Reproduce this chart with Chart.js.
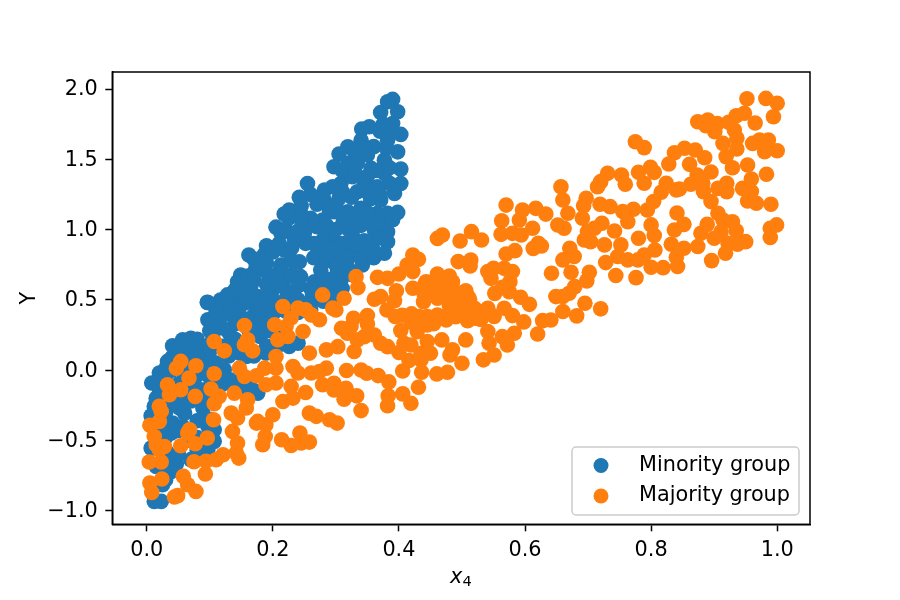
<!DOCTYPE html>
<html>
<head>
<meta charset="utf-8">
<title>Minority and majority group scatter</title>
<script src="https://cdn.jsdelivr.net/npm/chart.js@4/dist/chart.umd.min.js"></script>
<style>
  html, body { margin: 0; background: #fff; }
  canvas { display: block; }
</style>
</head>
<body>
<canvas id="scatter" width="900" height="600"></canvas>
<script>
const xTicks = [0, 0.2, 0.4, 0.6, 0.8, 1.0];
const yTicks = [-1, -0.5, 0, 0.5, 1, 1.5, 2];
const groupNames = ["Minority group", "Majority group"];

const minorityPoints = [
  [.390,1.926],[.382,1.909],[.371,1.833],[.398,1.838],[.390,1.755],[.353,1.731],[.341,1.715],[.403,1.677],
  [.382,1.636],[.340,1.636],[.319,1.589],[.305,1.537],[.297,1.447],[.398,1.553],[.377,1.494],[.403,1.430],
  [.319,1.471],[.334,1.471],[.356,1.435],[.350,1.530],[.403,1.328],[.393,1.257],[.366,1.305],[.377,1.400],
  [.308,1.328],[.295,1.305],[.255,1.328],[.282,1.281],[.242,1.229],[.345,1.328],[.326,1.376],[.334,1.269],
  [.305,1.222],[.284,1.186],[.218,1.110],[.226,1.139],[.244,1.115],[.398,1.122],[.382,1.115],[.366,1.115],
  [.371,1.210],[.340,1.151],[.319,1.127],[.297,1.127],[.205,1.017],[.250,1.032],[.279,1.068],[.382,.985],
  [.361,.997],[.326,.961],[.311,1.044],[.287,.985],[.382,.914],[.377,.831],[.356,.902],[.340,.854],
  [.319,.843],[.297,.926],[.252,.902],[.234,.937],[.213,.973],[.218,.854],[.190,.885],[.162,.819],
  [.186,.819],[.342,.748],[.281,.831],[.303,.807],[.213,.748],[.242,.771],[.244,.665],[.173,.724],
  [.149,.677],[.144,.629],[.186,.712],[.194,.665],[.218,.641],[.303,.712],[.276,.712],[.308,.641],
  [.266,.629],[.292,.594],[.165,.594],[.128,.535],[.117,.499],[.096,.482],[.199,.570],[.223,.558],
  [.176,.523],[.152,.535],[.139,.452],[.186,.428],[.263,.535],[.234,.475],[.295,.523],[.097,.481],
  [.121,.500],[.142,.524],[.168,.535],[.195,.535],[.224,.535],[.097,.358],[.115,.334],[.136,.429],
  [.126,.453],[.147,.393],[.189,.393],[.200,.275],[.174,.453],[.155,.476],[.041,.173],[.057,.216],
  [.070,.227],[.085,.168],[.105,.227],[.131,.263],[.129,.168],[.147,.121],[.158,.097],[.099,.121],
  [.099,.073],[.033,.062],[.020,-.021],[.008,-.092],[.025,-.045],[.078,-.045],[.123,.002],[.086,-.140],
  [.131,-.069],[.168,-.140],[.176,-.164],[.158,-.140],[.226,.168],[.240,.192],[.189,.121],[.216,.263],
  [.012,-.258],[.007,-.325],[.052,-.270],[.041,-.377],[.039,-.448],[.060,-.306],[.089,-.270],[.097,-.401],
  [.107,-.424],[.107,-.507],[.097,-.566],[.070,-.637],[.047,-.666],[.039,-.721],[.025,-.815],[.023,-.934],
  [.012,-.934],[.007,-.555],[.031,-.578],[.015,-.685],[.020,-.164],[.057,-.401],[.050,-.100],[.040,.000],
  [.060,.100],[.080,.050],[.100,-.050],[.050,-.200],[.120,.400],[.170,.390],[.030,-.300],[.030,-.480],
  [.375,1.750],[.370,1.700],[.390,1.700],[.360,1.590],[.345,1.580],[.380,1.580],[.330,1.550],[.310,1.420],
  [.330,1.410],[.350,1.380],[.365,1.420],[.385,1.440],[.310,1.270],[.350,1.270],[.385,1.330],[.370,1.250],
  [.355,1.220],[.325,1.230],[.300,1.170],[.290,1.130],[.330,1.080],[.350,1.060],[.370,1.050],[.390,1.070],
  [.310,1.100],[.350,1.120],[.300,1.000],[.320,1.000],[.340,1.030],[.270,1.020],[.285,1.030],[.370,.940],
  [.345,.920],[.280,.930],[.265,.900],[.310,.900],[.330,.900],[.360,.850],[.280,.880],[.295,.860],
  [.320,.800],[.340,.800],[.360,.800],[.265,.800],[.285,.780],[.300,.750],[.320,.720],[.230,.870],
  [.200,.840],[.210,.900],[.230,.780],[.190,.760],[.170,.790],[.250,.970],[.220,1.000],[.240,.990],
  [.280,.660],[.300,.670],[.325,.680],[.270,.600],[.290,.630],[.310,.580],[.210,.700],[.230,.680],
  [.160,.670],[.170,.640],[.190,.610],[.210,.600],[.240,.600],[.130,.490],[.160,.500],[.180,.490],
  [.200,.500],[.220,.500],[.240,.500],[.260,.480],[.280,.490],[.260,.580],[.140,.570],[.120,.450],
  [.110,.420],[.130,.400],[.160,.360],[.180,.340],[.200,.400],[.220,.420],[.240,.410],[.260,.430],
  [.140,.330],[.120,.300],[.160,.300],[.190,.280],[.180,.240],[.140,.220],[.170,.260],[.100,.280],
  [.080,.220],[.070,.170],[.050,.150],[.100,.180],[.120,.170],[.190,.170],[.210,.180],[.170,.100],
  [.130,.100],[.110,.050],[.080,.100],[.060,.020],[.030,.010],[.040,.090],[.030,-.080],[.060,-.050],
  [.090,-.020],[.120,-.050],[.140,-.070],[.160,-.090],[.120,-.100],[.100,-.120],[.140,-.120],[.070,-.130],
  [.040,-.150],[.020,-.130],[.015,-.200],[.040,-.240],[.070,-.220],[.090,-.190],[.100,-.220],[.025,-.340],
  [.080,-.360],[.090,-.330],[.100,-.350],[.025,-.420],[.050,-.430],[.080,-.480],[.100,-.460],[.090,-.530],
  [.070,-.500],[.030,-.600],[.050,-.600],[.080,-.570],[.040,-.630],[.030,-.720],[.030,-.780],
  [.270,1.180],[.280,1.230],[.260,1.250],[.245,1.170],[.225,1.080],[.260,1.080],[.245,1.070]
];

const majorityPoints = [
  [.952,1.931],[.982,1.933],[1.000,1.898],[.994,1.803],[.965,1.758],[.948,1.827],[.935,1.810],[.923,1.763],
  [.874,1.767],[.890,1.779],[.905,1.755],[.887,1.739],[.901,1.696],[.914,1.613],[.932,1.708],[.936,1.649],
  [.936,1.573],[.919,1.519],[.929,1.440],[.953,1.459],[.983,1.393],[.895,1.410],[.961,1.613],[.972,1.637],
  [.986,1.637],[.980,1.554],[1.000,1.561],[.775,1.625],[.789,1.583],[.837,1.547],[.853,1.578],[.870,1.566],
  [.885,1.511],[.828,1.466],[.861,1.464],[.873,1.388],[.799,1.443],[.805,1.407],[.780,1.407],[.789,1.329],
  [.731,1.400],[.753,1.388],[.759,1.322],[.715,1.305],[.720,1.341],[.824,1.329],[.816,1.265],[.840,1.282],
  [.845,1.289],[.863,1.322],[.882,1.329],[.883,1.270],[.906,1.293],[.920,1.329],[.920,1.270],[.895,1.199],
  [.945,1.293],[.959,1.360],[.959,1.270],[.953,1.203],[.967,1.187],[.990,1.180],[.804,1.199],[.697,1.222],
  [.693,1.170],[.719,1.180],[.735,1.163],[.755,1.128],[.772,1.144],[.794,1.139],[.841,1.118],[.906,1.116],
  [.668,1.116],[.691,1.080],[.722,1.045],[.710,1.009],[.699,.985],[.763,1.056],[.800,1.033],[.742,.990],
  [.805,.957],[.852,1.037],[.837,.997],[.889,1.037],[.879,.973],[.914,1.068],[.929,1.056],[.935,.992],
  [.999,1.033],[.989,1.009],[.989,.943],[.900,.938],[.911,.985],[.874,.879],[.832,.895],[.852,.867],
  [.950,.914],[.937,.895],[.922,.902],[.918,.831],[.726,.891],[.780,.938],[.752,.891],[.806,.855],
  [.789,.819],[.779,.784],[.763,.784],[.747,.808],[.840,.803],[.842,.737],[.896,.779],[.728,.765],
  [.800,.732],[.819,.729],[.694,.926],[.704,.914],[.671,.867],[.678,.808],[.660,.784],[.673,.696],
  [.702,.696],[.698,.635],[.744,.673],[.776,.658],[.679,.594],[.670,.547],[.660,.523],[.695,.476],
  [.720,.436],[.682,.386],[.660,.417],[.662,1.009],[.657,1.305],[.660,1.210],
  [.570,1.174],[.563,1.063],[.596,1.139],[.591,1.068],[.617,1.151],[.633,1.110],[.652,1.032],[.612,1.009],
  [.562,.966],[.580,.973],[.594,.961],[.621,.902],[.613,.866],[.626,.883],[.584,.850],[.570,.826],
  [.469,.961],[.461,.937],[.497,.919],[.515,.985],[.531,.926],[.494,.772],[.514,.783],[.513,.741],
  [.642,.689],[.649,.523],[.641,.357],[.628,.352],[.620,.257],[.598,.343],[.422,.819],[.431,.788],
  [.413,.748],[.422,.701],[.400,.684],[.382,.653],[.366,.660],[.332,.665],[.335,.587],[.461,.684],
  [.480,.670],[.443,.629],[.422,.582],[.396,.565],[.541,.701],[.550,.724],[.567,.724],[.580,.701],
  [.546,.653],[.576,.629],[.564,.589],[.575,.558],[.552,.546],[.593,.518],[.607,.468],[.451,.582],
  [.472,.599],[.485,.629],[.461,.570],[.506,.565],[.461,.511],[.485,.523],[.496,.511],[.512,.504],
  [.439,.487],[.361,.504],[.371,.523],[.393,.494],[.313,.511],[.300,.428],[.381,.428],[.394,.381],
  [.415,.385],[.432,.381],[.445,.381],[.461,.392],[.475,.357],[.485,.440],[.498,.416],[.509,.352],
  [.525,.369],[.541,.440],[.535,.392],[.567,.440],[.580,.388],[.551,.381],[.328,.369],[.350,.388],
  [.350,.328],[.309,.298],[.324,.310],[.403,.281],[.429,.274],[.445,.321],[.345,.238],[.361,.250],
  [.318,.262],[.303,.167],[.329,.132],[.334,.215],[.371,.191],[.382,.167],[.408,.191],[.419,.179],
  [.400,.125],[.445,.203],[.450,.120],[.435,.120],[.468,.215],[.506,.215],[.541,.274],[.543,.191],
  [.583,.262],[.564,.238],[.572,.179],[.551,.108],[.534,.073],[.485,.144],[.481,.108],[.500,.049],
  [.416,.068],[.435,.073],[.406,-.006],[.436,-.015],[.460,-.027],[.477,-.015],[.317,-.003],[.340,.001],
  [.349,-.022],[.367,-.039],[.384,-.084],[.431,-.122],[.297,-.093],[.316,-.129],[.313,-.207],[.333,-.183],
  [.406,-.169],[.419,-.236],[.383,-.183],[.382,-.254],[.340,-.288],[.297,-.141],
  [.279,.535],[.295,.441],[.216,.453],[.240,.441],[.229,.370],[.261,.393],[.274,.358],[.203,.322],
  [.221,.310],[.248,.275],[.208,.216],[.224,.239],[.155,.317],[.160,.216],[.155,.180],[.168,.137],
  [.107,.204],[.123,.137],[.054,.062],[.078,.031],[.047,.014],[.067,-.057],[.107,-.026],[.147,.014],
  [.155,-.045],[.174,-.040],[.187,.014],[.205,.097],[.205,.014],[.232,.026],[.240,-.021],[.258,.121],
  [.261,-.021],[.274,-.010],[.285,.144],[.285,.014],[.279,-.104],[.189,-.104],[.205,-.092],[.229,-.116],
  [.252,-.159],[.232,-.199],[.216,-.223],[.033,-.104],[.036,-.175],[.054,-.140],[.077,-.187],[.102,-.135],
  [.115,-.187],[.107,-.239],[.139,-.164],[.160,-.211],[.158,-.270],[.134,-.306],[.144,-.341],[.020,-.258],
  [.023,-.294],[.020,-.365],[.005,-.393],[.106,-.353],[.068,-.424],[.065,-.448],[.096,-.483],[.077,-.524],
  [.054,-.538],[.136,-.436],[.144,-.519],[.142,-.590],[.146,-.626],[.176,-.365],[.200,-.318],[.189,-.389],
  [.174,-.377],[.188,-.472],[.184,-.531],[.214,-.495],[.229,-.536],[.243,-.448],[.258,-.512],[.245,-.519],
  [.258,-.306],[.269,-.329],[.290,-.353],[.302,-.377],[.012,-.472],[.015,-.531],[.028,-.543],[.020,-.566],
  [.004,-.654],[.023,-.654],[.075,-.652],[.094,-.649],[.110,-.638],[.121,-.602],[.093,-.739],[.058,-.756],
  [.065,-.815],[.078,-.863],[.044,-.903],[.049,-.893],[.024,-.775],[.005,-.803],[.008,-.870],[.252,.430],
  [.405,.390],[.425,.370],[.455,.370],[.470,.380],[.490,.380],[.520,.370],[.500,.460],[.520,.440],
  [.500,.550],[.470,.540],[.440,.540],[.500,.400],[.520,.400],[.530,.360],[.420,.340],
  [.455,.330],[.440,.350],[.480,.460],[.490,.470],[.470,.650],[.440,.600],[.480,.600],[.460,.620],
  [.510,.520],[.420,.400]
];

const BLUE = "#1f77b4";
const ORANGE = "#ff7f0e";
const FONT = "'DejaVu Sans'";
const TEXT_SIZE = 20.8;

const toXY = pts => pts.map(p => ({ x: p[0], y: p[1] }));

// axes box, the subscripted x label and the legend inside the plot at lower right
const frameAndLegend = {
  id: "frameAndLegend",
  afterDraw(chart) {
    const { ctx, chartArea: a } = chart;
    ctx.save();
    ctx.strokeStyle = "#000";
    ctx.lineWidth = 1.5;
    ctx.strokeRect(a.left, a.top, a.right - a.left, a.bottom - a.top);

    ctx.fillStyle = "#000";
    ctx.textBaseline = "alphabetic";
    ctx.font = "italic " + TEXT_SIZE + "px " + FONT;
    ctx.fillText("x", 450, 583);
    ctx.font = "14.6px " + FONT;
    ctx.fillText("4", 462.5, 586);

    ctx.beginPath();
    ctx.roundRect(572, 447, 227, 68, 4);
    ctx.fillStyle = "rgba(255,255,255,0.8)";
    ctx.fill();
    ctx.strokeStyle = "#cccccc";
    ctx.lineWidth = 1.5;
    ctx.stroke();

    ctx.font = TEXT_SIZE + "px " + FONT;
    ctx.textBaseline = "middle";
    chart.data.datasets.forEach((ds, i) => {
      const rowY = 465.5 + i * 30.5;
      ctx.beginPath();
      ctx.arc(601, rowY, 7.5, 0, Math.PI * 2);
      ctx.fillStyle = ds.backgroundColor;
      ctx.fill();
      ctx.fillStyle = "#000";
      ctx.fillText(ds.label, 639, rowY);
    });
    ctx.restore();
  }
};

const axisBase = {
  type: "linear",
  grid: { drawOnChartArea: false, tickLength: 7, tickWidth: 1.5, tickColor: "#000" },
  border: { color: "#000", width: 1.5 }
};

new Chart(document.getElementById("scatter"), {
  type: "scatter",
  data: {
    datasets: [
      { label: groupNames[0], data: toXY(minorityPoints), backgroundColor: BLUE, borderColor: BLUE, order: 2 },
      { label: groupNames[1], data: toXY(majorityPoints), backgroundColor: ORANGE, borderColor: ORANGE, order: 1 }
    ]
  },
  options: {
    responsive: false,
    animation: false,
    layout: { padding: { left: 0, top: 72, right: 90, bottom: 0 } },
    elements: { point: { radius: 7.8, borderWidth: 0, hoverRadius: 7.8 } },
    plugins: { legend: { display: false }, tooltip: { enabled: false } },
    scales: {
      x: {
        ...axisBase,
        min: -0.0546,
        max: 1.052,
        afterBuildTicks: s => { s.ticks = xTicks.map(v => ({ value: v })); },
        afterFit: s => { s.height = 75.7; },
        ticks: { color: "#000", font: { family: FONT, size: TEXT_SIZE }, padding: 7, maxRotation: 0,
                  callback: v => v.toFixed(1) }
      },
      y: {
        ...axisBase,
        min: -1.097,
        max: 2.121,
        afterBuildTicks: s => { s.ticks = yTicks.map(v => ({ value: v })); },
        afterFit: s => { s.width = 112.3; },
        ticks: { color: "#000", font: { family: FONT, size: TEXT_SIZE }, padding: 7.5, labelOffset: 1,
                 callback: v => v.toFixed(1).replace("-", "\u2212") },
        title: { display: true, text: "Y", color: "#000", padding: { top: 17, bottom: 0 },
                 font: { family: FONT, size: TEXT_SIZE } }
      }
    }
  },
  plugins: [frameAndLegend]
});
</script>
</body>
</html>
